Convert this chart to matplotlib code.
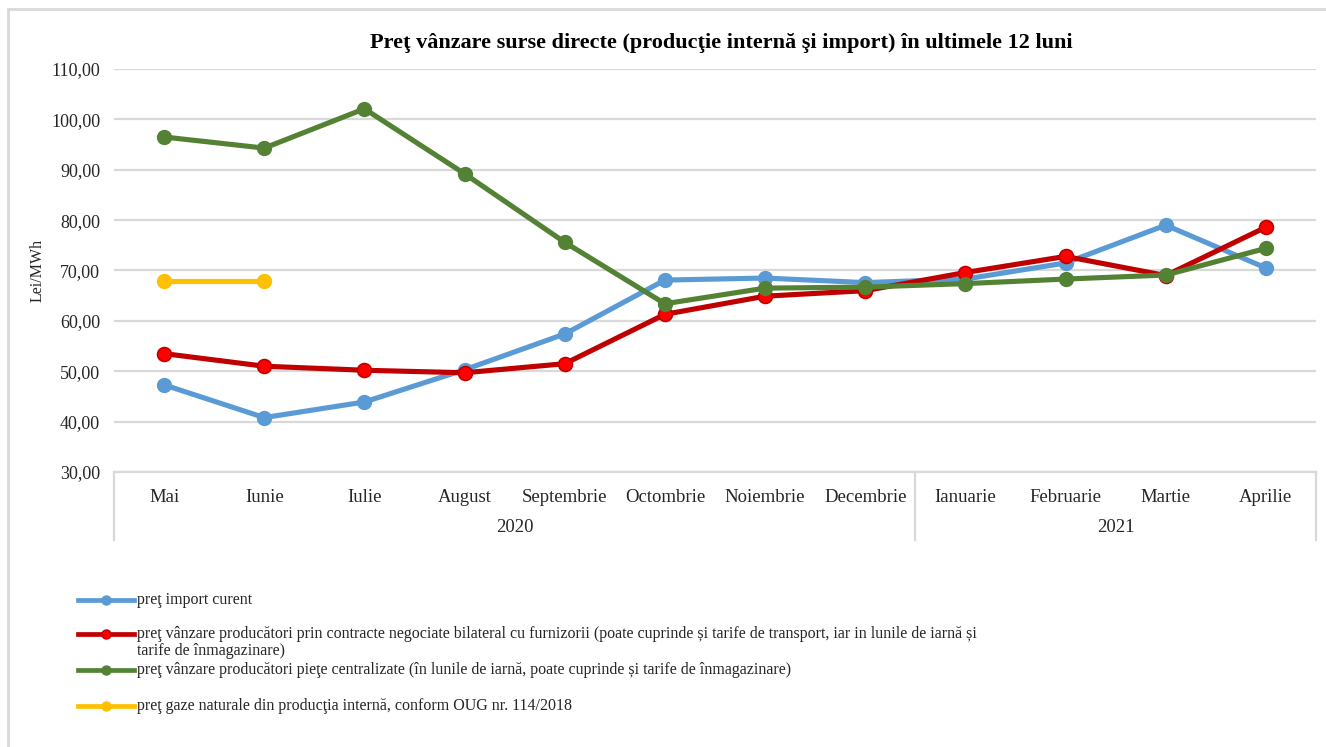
import matplotlib
matplotlib.use("Agg")
import matplotlib.pyplot as plt
from matplotlib.lines import Line2D
from matplotlib.patches import Rectangle
import matplotlib.transforms as mtransforms

plt.rcParams['font.family'] = ['Liberation Serif', 'DejaVu Serif']

months = ["Mai", "Iunie", "Iulie", "August", "Septembrie", "Octombrie", "Noiembrie",
          "Decembrie", "Ianuarie", "Februarie", "Martie", "Aprilie"]
years = ["2020", "2021"]
year_spans = [(0, 7), (8, 11)]

import_curent = [47.3, 40.8, 43.9, 50.3, 57.4, 68.1, 68.5, 67.6, 68.3, 71.5, 79.0, 70.5]
contracte_bilaterale = [53.5, 51.0, 50.2, 49.7, 51.5, 61.3, 64.9, 66.0, 69.6, 72.8, 69.0, 78.6]
piete_centralizate = [96.5, 94.3, 102.1, 89.2, 75.6, 63.4, 66.5, 66.7, 67.4, 68.3, 69.1, 74.4]
productie_interna = [68.0, 68.0]

labels = [
    ["preţ import curent"],
    ["preţ vânzare producători prin contracte negociate bilateral cu furnizorii (poate cuprinde și tarife de transport, iar in lunile de iarnă și",
     "tarife de înmagazinare)"],
    ["preţ vânzare producători pieţe centralizate (în lunile de iarnă, poate cuprinde și tarife de înmagazinare)"],
    ["preţ gaze naturale din producţia internă, conform OUG nr. 114/2018"],
]
title = "Preţ vânzare surse directe (producţie internă şi import) în ultimele 12 luni"

W, H = 1326, 747
fig = plt.figure(figsize=(W / 100, H / 100), dpi=100)

def fx(px):
    return px / W

def fy(py):
    return 1 - py / H

ax_left, ax_right, ax_top, ax_bot = 114, 1316, 69, 472
ax = fig.add_axes([fx(ax_left), fy(ax_bot), (ax_right - ax_left) / W, (ax_bot - ax_top) / H])

x = list(range(len(months)))
grid_c = "#D9D9D9"
txt_c = "#262626"
blue, red, red_face, green, yellow = "#5B9BD5", "#C00000", "#FF0000", "#548235", "#FFC000"
lw, ms = 3.7, 10

ax.plot(x, import_curent, color=blue, lw=lw, marker="o", ms=ms, mfc=blue, mec=blue, zorder=3)
ax.plot(x, contracte_bilaterale, color=red, lw=lw, marker="o", ms=ms, mfc=red_face, mec=red, mew=1.2, zorder=4)
ax.plot(x, piete_centralizate, color=green, lw=lw, marker="o", ms=ms, mfc=green, mec=green, zorder=5)
ax.plot(x[:len(productie_interna)], productie_interna, color=yellow, lw=lw, marker="o", ms=ms,
        mfc=yellow, mec=yellow, zorder=3)

ax.set_xlim(-0.5, len(months) - 0.5)
ax.set_ylim(30, 110)
ax.set_yticks(range(30, 111, 10))
ax.set_yticklabels([f"{v},00" for v in range(30, 111, 10)], fontsize=13)
ax.yaxis.grid(True, color=grid_c, lw=1.6)
ax.set_axisbelow(True)
for s in ["left", "right", "top"]:
    ax.spines[s].set_visible(False)
ax.spines["bottom"].set_color(grid_c)
ax.spines["bottom"].set_linewidth(1.6)
ax.tick_params(axis="y", length=0, pad=10, labelcolor=txt_c)
ax.set_xticks(x)
ax.set_xticklabels(months, fontsize=13.5, color=txt_c)
ax.tick_params(axis="x", length=0, pad=12)

fig.text(fx(38), fy((ax_top + ax_bot) / 2), "Lei/MWh", rotation=90, ha="center", va="center",
         fontsize=11.5, color=txt_c)

trans = mtransforms.blended_transform_factory(ax.transData, ax.transAxes)
sep_bottom = -(540 - ax_bot) / (ax_bot - ax_top)
year_y = -(527 - ax_bot) / (ax_bot - ax_top)
bounds = [-0.5] + [e + 0.5 for _, e in year_spans]
for b in bounds:
    ax.add_line(Line2D([b, b], [0, sep_bottom], transform=trans, color=grid_c, lw=1.6, clip_on=False))
for yr, (s, e) in zip(years, year_spans):
    ax.text((s + e) / 2, year_y, yr, transform=trans, ha="center", va="center", fontsize=13.5, color=txt_c)

fig.text(fx(721), fy(43), title, ha="center", va="center", fontsize=16, fontweight="bold")

# frame
fig.add_artist(Rectangle((fx(8), fy(H + 20)), fx(W + 20), fy(9) - fy(H + 20), transform=fig.transFigure,
                         fill=False, edgecolor=grid_c, lw=2))

# legend
leg_colors = [(blue, blue, blue), (red, red_face, red), (green, green, green), (yellow, yellow, yellow)]
leg_y = [600, 634, 670, 706]
for (c, fc, ec), yy, lines in zip(leg_colors, leg_y, labels):
    fig.add_artist(Line2D([fx(78), fx(134)], [fy(yy), fy(yy)], transform=fig.transFigure, color=c, lw=3.4))
    fig.add_artist(Line2D([fx(106)], [fy(yy)], transform=fig.transFigure, color=c, marker="o", ms=6.5,
                          mfc=fc, mec=ec, lw=0))
    for i, line in enumerate(lines):
        fig.text(fx(137), fy(yy + 17 * i), line, ha="left", va="center", fontsize=11.5, color=txt_c)

fig.savefig("out.png", dpi=100)
